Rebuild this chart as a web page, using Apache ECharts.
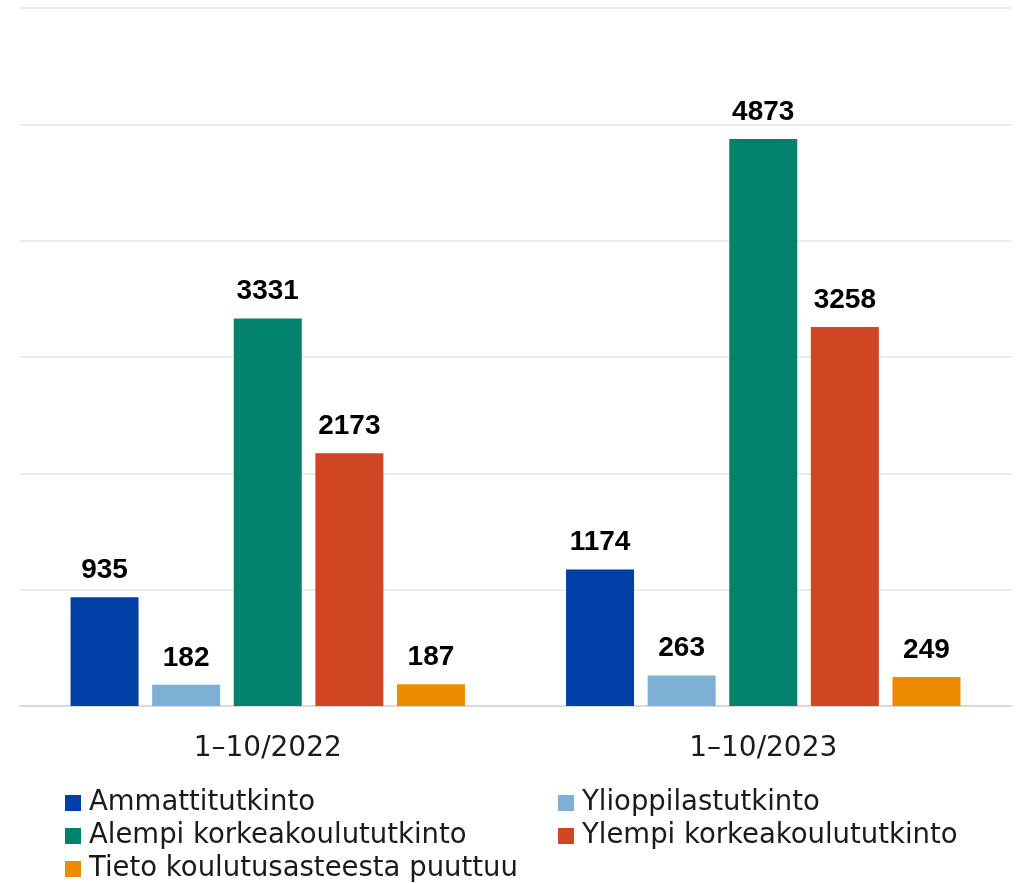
<!DOCTYPE html>
<html>
<head>
<meta charset="utf-8">
<script src="https://cdn.jsdelivr.net/npm/echarts@6/dist/echarts.min.js"></script>
<style>
  html, body { margin: 0; padding: 0; background: #fff; }
  #chart { width: 1017px; height: 883px; }
</style>
</head>
<body>
<div id="chart"></div>
<script>
// kaudet
const periods = ['1–10/2022', '1–10/2023']
// koulutusasteet
const seriesNames = [
  'Ammattitutkinto',
  'Ylioppilastutkinto',
  'Alempi korkeakoulututkinto',
  'Ylempi korkeakoulututkinto',
  'Tieto koulutusasteesta puuttuu'
]
const ammatti = [935, 1174]
const ylioppilas = [182, 263]
const alempi = [3331, 4873]
const ylempi = [2173, 3258]
const puuttuu = [187, 249]
const colors = ['#003fa5', '#7eb0d5', '#00826d', '#d04522', '#ee8a00']

const allValues = [ammatti, ylioppilas, alempi, ylempi, puuttuu]
const textFont = '"DejaVu Sans", sans-serif'

const chart = echarts.init(document.getElementById('chart'))

// legenda 2 sarakkeessa: [vasen, ylä] jokaiselle sarjalle
const legendPos = [[65, 789], [558, 789], [65, 822], [558, 822], [65, 855]]

const legends = seriesNames.map((name, i) => ({
  left: legendPos[i][0],
  top: legendPos[i][1],
  padding: 0,
  itemWidth: 16,
  itemHeight: 16,
  icon: 'rect',
  textStyle: {
    color: '#1a1a1a',
    fontSize: 27.5,
    fontFamily: textFont,
    lineHeight: 28,
    padding: [0, 0, 0, 3]
  },
  data: [name]
}))

const option = {
  animation: false,
  color: colors,
  grid: {
    left: 20,
    right: 6,
    top: 8,
    bottom: 177,
    containLabel: false
  },
  legend: legends,
  xAxis: {
    type: 'category',
    data: periods,
    axisLine: { show: true, lineStyle: { color: '#d9d9d9', width: 2 } },
    axisTick: { show: false },
    axisLabel: {
      color: '#1a1a1a',
      fontSize: 28,
      fontFamily: textFont,
      margin: 29
    }
  },
  yAxis: {
    type: 'value',
    min: 0,
    max: 6000,
    interval: 1000,
    axisLabel: { show: false },
    axisLine: { show: false },
    axisTick: { show: false },
    splitLine: { lineStyle: { color: '#ececec', width: 2 } }
  },
  series: seriesNames.map((name, i) => ({
    name: name,
    type: 'bar',
    data: allValues[i],
    barWidth: 68,
    barGap: '20%',
    itemStyle: { color: colors[i] },
    label: {
      show: true,
      position: 'top',
      distance: 13,
      color: '#000',
      fontSize: 28,
      fontWeight: 'bold',
      fontFamily: '"Liberation Sans", Arial, sans-serif'
    }
  }))
}

chart.setOption(option)
window.addEventListener('resize', () => {
  chart.resize()
})
</script>
</body>
</html>
